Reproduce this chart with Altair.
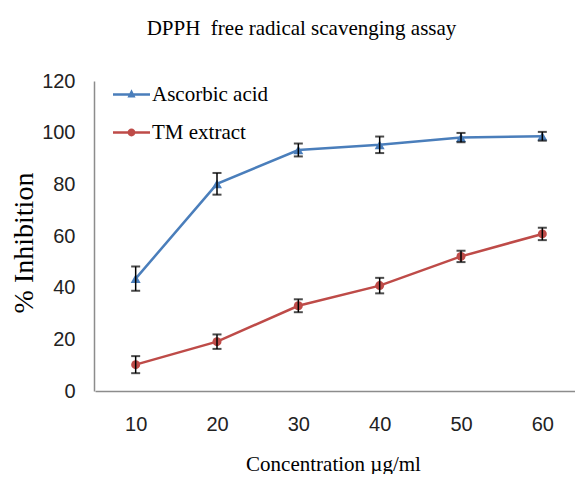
import altair as alt
import pandas as pd

concentrations = ["10", "20", "30", "40", "50", "60"]
series_names = ["Ascorbic acid", "TM extract"]
series_colors = ["#4a7ebb", "#be4b48"]
ascorbic_mean = [43.5, 80.2, 93.3, 95.3, 98.1, 98.6]
ascorbic_err = [4.7, 4.2, 2.5, 3.2, 1.8, 1.7]
tm_mean = [10.2, 19.1, 33.0, 40.8, 52.1, 60.8]
tm_err = [3.3, 2.8, 2.5, 3.0, 2.2, 2.4]
y_ticks = [0, 20, 40, 60, 80, 100, 120]

rows = []
for name, col, means, errs in [(series_names[0], series_colors[0], ascorbic_mean, ascorbic_err),
                               (series_names[1], series_colors[1], tm_mean, tm_err)]:
    for c, m, e in zip(concentrations, means, errs):
        rows.append({"conc": c, "series": name, "col": col, "mean": m, "lo": m - e, "hi": m + e})
df = pd.DataFrame(rows)

SERIF = "Liberation Serif"
SANS = "Liberation Sans Narrow, Liberation Sans, sans-serif"

x_enc = alt.X(
    "conc:O", sort=concentrations,
    scale=alt.Scale(type="point", padding=0.5, range=[1, 489]),
    axis=alt.Axis(
        title="Concentration µg/ml", titleFont=SERIF, titleFontSize=21,
        titleFontWeight="normal", titleColor="black",
        titleX=239, titleY=79, titleAlign="center", titleBaseline="alphabetic",
        labelAngle=0, labelFont=SANS, labelFontSize=20, labelColor="#222",
        labelPadding=23, ticks=False, tickSize=0,
        domainColor="#8c8c8c", domainWidth=1.5, grid=False,
    ),
)
y_scale = alt.Scale(domain=[0, 120], nice=False, zero=True)
y_axis = alt.Axis(
    values=y_ticks, title="% Inhibition", titleFont=SERIF, titleFontSize=28,
    titleFontWeight="normal", titleColor="black", titleAngle=270,
    titleX=-62, titleY=161.5, titleAlign="center", titleBaseline="alphabetic",
    labelFont=SANS, labelFontSize=20, labelColor="#222", labelPadding=19,
    ticks=False, tickSize=0, domainColor="#8c8c8c", domainWidth=1.5, grid=False,
)
direct_color = alt.Color("col:N", scale=None)

base = alt.Chart(df)

lines = base.mark_line(strokeWidth=2.5).encode(
    x=x_enc,
    y=alt.Y("mean:Q", scale=y_scale, axis=y_axis),
    color=direct_color,
    detail="series:N",
)

tri_points = base.transform_filter(
    alt.datum.series == series_names[0]
).mark_point(filled=True, opacity=1, shape="triangle-up", size=100).encode(
    x=x_enc,
    y=alt.Y("mean:Q", scale=y_scale),
    color=direct_color,
)

circ_points = base.transform_filter(
    alt.datum.series == series_names[1]
).mark_point(filled=True, opacity=1, shape="circle", size=81).encode(
    x=x_enc,
    y=alt.Y("mean:Q", scale=y_scale),
    color=direct_color,
)

err_rules = base.mark_rule(color="black", strokeWidth=1.5).encode(
    x=x_enc,
    y=alt.Y("lo:Q", scale=y_scale),
    y2="hi:Q",
)

caps = base.transform_fold(["lo", "hi"], as_=["end", "endval"]).mark_tick(
    color="black", size=9, thickness=2, orient="horizontal"
).encode(
    x=x_enc,
    y=alt.Y("endval:Q", scale=y_scale),
)

tri_path = "M-1,-0.07H1V0.07H-1Z M0,-0.28L0.22,0.16L-0.22,0.16Z"
circ_path = "M-1,-0.07H1V0.07H-1Z M-0.21,0A0.21,0.21 0 1,1 0.21,0A0.21,0.21 0 1,1 -0.21,0Z"

legend_params = alt.Legend(
    title=None, orient="none", legendX=19, legendY=-5, padding=0,
    symbolSize=1369, symbolOpacity=1, symbolStrokeWidth=0,
    labelFont=SERIF, labelFontSize=21, labelColor="black",
    labelOffset=2, rowPadding=9,
)

# legend-only layer: no data rows survive the filter, the legend comes from the scale domain
legend_layer = base.transform_filter(alt.datum.mean < -1000).mark_point(
    filled=True, opacity=1
).encode(
    x=x_enc,
    y=alt.Y("mean:Q", scale=y_scale),
    color=alt.Color("series:N", scale=alt.Scale(domain=series_names, range=series_colors),
                    legend=legend_params),
    shape=alt.Shape("series:N", scale=alt.Scale(domain=series_names, range=[tri_path, circ_path]),
                    legend=legend_params),
)

chart = alt.layer(lines, tri_points, circ_points, err_rules, caps, legend_layer).properties(
    width=481, height=310,
    title=alt.TitleParams(
        "DPPH\u00a0 free radical scavenging assay", font=SERIF, fontSize=21,
        fontWeight="normal", color="black", anchor="middle", dx=-33, dy=-28,
    ),
    autosize=alt.AutoSizeParams(type="none"),
    padding={"left": 86, "top": 73, "right": 0, "bottom": 83},
    background="white",
).configure_view(stroke=None)

chart.save("out.html", embed_options={"renderer": "svg", "actions": False})
